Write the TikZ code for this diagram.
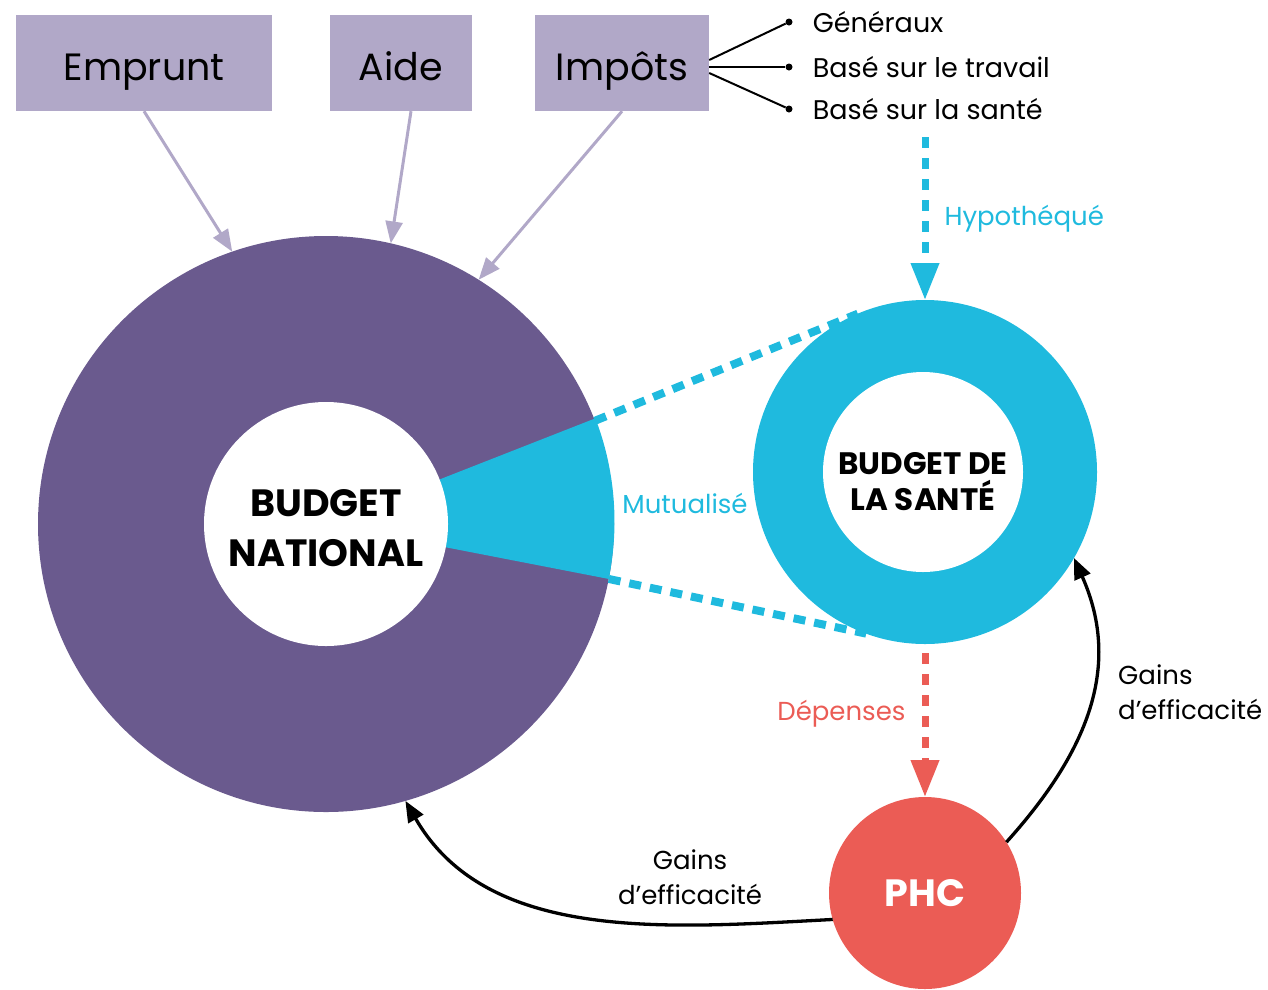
\documentclass[tikz,border=0pt]{standalone}
\usepackage{fontspec}
\setmainfont{Poppins}
\usetikzlibrary{arrows.meta,positioning,calc}
\definecolor{boxlav}{HTML}{B1A8C8}
\definecolor{natpurple}{HTML}{6A5A8E}
\definecolor{healthcyan}{HTML}{1FBADE}
\definecolor{phcred}{HTML}{EB5C55}
\tikzset{
  srcbox/.style={fill=boxlav, minimum height=96pt, inner sep=0pt, text height=40pt, text depth=6pt, font=\fontsize{38}{44}\selectfont},
  feed/.style={boxlav, line width=3pt, -{Triangle[width=17pt,length=22pt]}},
  fan/.style={black, line width=2pt},
  dot/.style={circle, fill=black, inner sep=0pt, minimum size=7pt},
  item/.style={inner sep=0pt, anchor=west, font=\fontsize{27}{32}\selectfont},
  disc/.style={circle, inner sep=0pt, outer sep=0pt},
  bigtxt/.style={align=center, font=\bfseries\fontsize{38}{50}\selectfont},
  pool/.style={healthcyan, line width=8pt, dash pattern=on 12pt off 9pt},
  flow/.style={line width=7pt, dash pattern=on 11pt off 10pt, -{Triangle[width=27pt,length=37pt]}},
  gain/.style={black, line width=3.3pt, -{Triangle[width=17pt,length=21pt]}},
  tag/.style={inner sep=0pt, font=\fontsize{26}{35}\selectfont}
}
\begin{document}
\begin{tikzpicture}[x=1pt,y=1pt]
\useasboundingbox (0,0) rectangle (1268,-989);

\node[srcbox, minimum width=256pt] (emprunt) at (144,-63) {Emprunt};
\node[srcbox, minimum width=142pt] (aide) at (401,-63) {Aide};
\node[srcbox, minimum width=174pt] (impots) at (622,-63) {Impôts};

\node[dot] (gen) at (789,-22) {};
\node[dot] (trav) at (789,-67) {};
\node[dot] (sant) at (789,-109) {};
\node[item, right=20pt of gen] (gentxt) {Généraux};
\node[item, right=20pt of trav] (travtxt) {Basé sur le travail};
\node[item, right=20pt of sant] (santtxt) {Basé sur la santé};
\draw[fan] ([yshift=3pt]impots.east) -- (gen);
\draw[fan] ([yshift=-4pt]impots.east) -- (trav);
\draw[fan] ([yshift=-10pt]impots.east) -- (sant);

\node[disc, fill=natpurple, minimum size=576pt] (natl) at (326,-524) {};
\fill[healthcyan] (natl.center) -- (natl.-11.5) arc[start angle=-11.5, end angle=21, radius=288pt] -- cycle;
\node[disc, fill=white, minimum size=244pt] (natlin) at (natl) {};
\node[bigtxt] (natltxt) at ([yshift=-4pt]natlin.center) {BUDGET\\NATIONAL};

\draw[feed] (emprunt.south) -- (natl.109);
\draw[feed] ([xshift=10pt]aide.south) -- (natl.77);
\draw[feed] (impots.south) -- (natl.58);

\node[disc, fill=healthcyan, minimum size=344pt] (ring) at (925,-472) {};
\node[disc, fill=white, minimum size=200pt] (sante) at (923,-472) {};
\node[bigtxt, font=\bfseries\fontsize{31}{36}\selectfont] (santetxt) at ([yshift=-10pt]sante.center) {BUDGET DE\\LA SANTÉ};
\draw[pool] (natl.21) -- (ring.113);
\draw[pool] (natl.-11.5) -- (ring.-110);
\node[tag, text=healthcyan] (mutu) at (685,-503) {Mutualisé};

\node[disc, fill=phcred, minimum size=192pt, text=white, font=\bfseries\fontsize{38}{44}\selectfont] (phc) at (925,-893) {PHC};

\coordinate (hyp) at (925,-137);
\coordinate (dep) at (925,-653);
\draw[flow, healthcyan] (hyp) -- (ring.north) node[tag, midway, right=16pt] (hyptxt) {Hypothéqué};
\draw[flow, phcred] (dep) -- (phc.north) node[tag, pos=0.42, left=16pt] (deptxt) {Dépenses};

\draw[gain] (phc.196) to[out=183, in=-60, looseness=0.95] (natl.-74);
\draw[gain] (phc.32) to[out=48, in=-66, looseness=1.05] (ring.-30);
\node[tag, align=center] (gainl) at (690,-877) {Gains\\d’efficacité};
\node[tag, align=left, anchor=west] (gainr) at (1118,-692) {Gains\\d’efficacité};
\end{tikzpicture}
\end{document}
